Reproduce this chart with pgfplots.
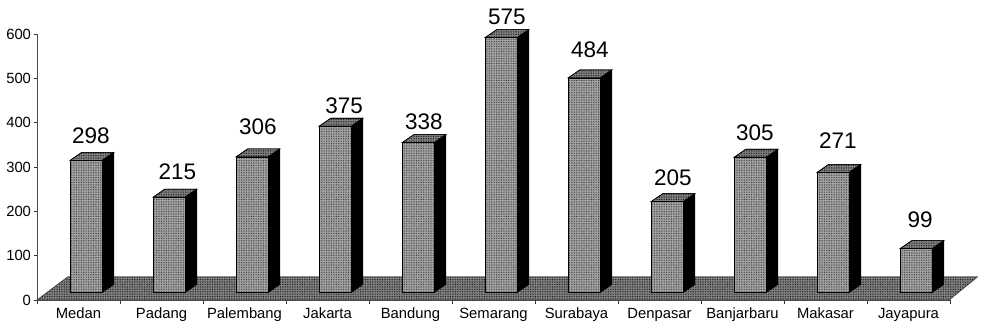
\documentclass[border=0pt]{standalone}
\usepackage{fontspec}
\setmainfont{Liberation Sans}
\usepackage{pgfplots}
\pgfplotsset{compat=1.18}
\usetikzlibrary{patterns.meta}
\definecolor{facegray}{gray}{0.66}
\definecolor{topgray}{gray}{0.52}
\definecolor{floorgray}{gray}{0.52}
\tikzset{
  grain/.style={postaction={pattern={Dots[distance=1.7pt,radius=0.45pt]},pattern color=#1}},
}
% One column with a perspective side and cap: #1 is the category index, #2 the value.
\newcommand{\column}[2]{%
  \pgfmathsetmacro{\xa}{#1+0.40}%
  \pgfmathsetmacro{\xb}{#1+0.785}%
  \pgfmathsetmacro{\xc}{#1+0.925}%
  \pgfmathsetmacro{\xd}{#1+0.54}%
  \pgfmathsetmacro{\ya}{17}%
  \pgfmathsetmacro{\yb}{17+#2}%
  \pgfmathsetmacro{\yc}{35+#2}%
  \pgfmathsetmacro{\yd}{35}%
  \addplot[fill=black,draw=black,line width=0.6pt] coordinates {(\xb,\ya) (\xc,\yd) (\xc,\yc) (\xb,\yb)} --cycle;
  \addplot[fill=topgray,draw=black,line width=0.6pt,grain=black] coordinates {(\xa,\yb) (\xb,\yb) (\xc,\yc) (\xd,\yc)} --cycle;
  \addplot[fill=facegray,draw=black,line width=0.4pt,grain=black!85] coordinates {(\xa,\ya) (\xb,\ya) (\xb,\yb) (\xa,\yb)} --cycle;
}
\begin{document}
\begin{tikzpicture}
\useasboundingbox (-37pt,-27pt) rectangle (944pt,300pt);
\begin{axis}[
  scale only axis,
  width=913pt, height=266pt,
  xmin=0, xmax=11, ymin=0, ymax=600,
  clip=false,
  axis lines=left,
  axis line style={-, line width=0.7pt, black!70},
  ytick={0,100,...,600},
  xtick={0.5,1.5,...,10.5},
  xticklabels={Medan,Padang,Palembang,Jakarta,Bandung,Semarang,Surabaya,Denpasar,Banjarbaru,Makasar,Jayapura},
  minor xtick={0,1,...,11},
  tick style={black!80, line width=0.6pt},
  major x tick style={draw=none},
  major tick length=3.5pt,
  minor tick length=3.5pt,
  tick align=outside,
  ticklabel style={font=\fontsize{14.8pt}{16pt}\selectfont, text=black},
  yticklabel style={xshift=1pt},
  xticklabel style={yshift=-1pt},
  /pgf/number format/assume math mode=true,
  scaled ticks=false,
]
% Floor of the plot
\addplot[fill=floorgray,draw=black!70,line width=0.5pt,grain=black] coordinates {(0,0) (10.99,0) (11.33,52) (0.37,52)} --cycle;

\column{0}{298}
\column{1}{215}
\column{2}{306}
\column{3}{375}
\column{4}{338}
\column{5}{575}
\column{6}{484}
\column{7}{205}
\column{8}{305}
\column{9}{271}
\column{10}{99}

% Value labels
\addplot[draw=none, mark=none, forget plot,
  point meta=explicit,
  nodes near coords,
  every node near coord/.append style={anchor=center, font=\fontsize{22.5pt}{24pt}\selectfont, text=black, /pgf/number format/precision=0},
] table[x=x,y=y,meta=v] {
x y v
0.65 370 298
1.69 289 215
2.66 390 306
3.70 438 375
4.66 401 338
5.66 638 575
6.66 564 484
7.66 275 205
8.65 377 305
9.65 359 271
10.64 180 99
};
\end{axis}
\end{tikzpicture}
\end{document}
